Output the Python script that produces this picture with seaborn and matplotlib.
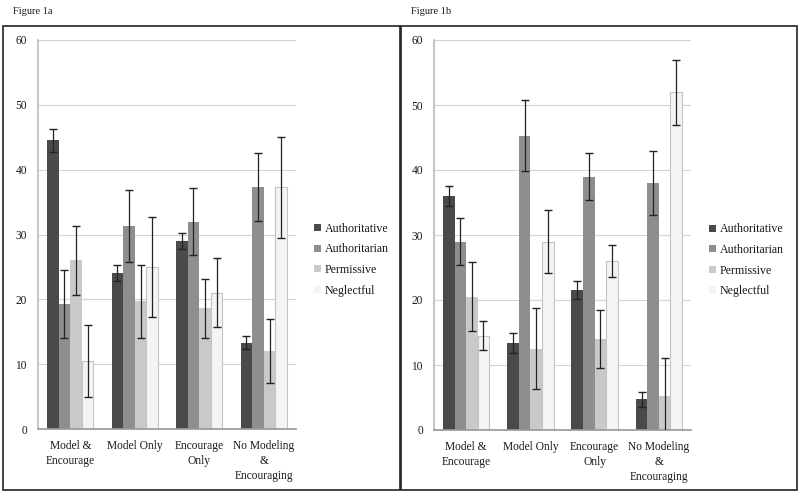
import pandas as pd
import matplotlib
matplotlib.use("Agg")
import matplotlib.pyplot as plt
import seaborn as sns
from matplotlib.patches import Rectangle

conditions = ["Model &\nEncourage", "Model Only", "Encourage\nOnly", "No Modeling\n&\nEncouraging"]
styles = ["Authoritative", "Authoritarian", "Permissive", "Neglectful"]

# Figure 1a: means per style (one list per style, over the four conditions)
fig1a_means = {
    "Authoritative": [44.5, 24.1, 29.0, 13.3],
    "Authoritarian": [19.3, 31.3, 32.0, 37.3],
    "Permissive": [26.0, 19.7, 18.6, 12.0],
    "Neglectful": [10.5, 25.0, 21.0, 37.3],
}
fig1a_err = {
    "Authoritative": [1.7, 1.2, 1.3, 1.0],
    "Authoritarian": [5.2, 5.6, 5.1, 5.2],
    "Permissive": [5.3, 5.6, 4.6, 4.9],
    "Neglectful": [5.5, 7.7, 5.3, 7.8],
}

# Figure 1b
fig1b_means = {
    "Authoritative": [36.0, 13.4, 21.6, 4.7],
    "Authoritarian": [29.0, 45.3, 39.0, 38.0],
    "Permissive": [20.5, 12.5, 14.0, 5.3],
    "Neglectful": [14.5, 29.0, 26.0, 52.0],
}
fig1b_err = {
    "Authoritative": [1.6, 1.6, 1.4, 1.2],
    "Authoritarian": [3.6, 5.4, 3.6, 4.9],
    "Permissive": [5.3, 6.2, 4.5, 5.8],
    "Neglectful": [2.2, 4.9, 2.4, 5.0],
}

colors = ["#4a4a4a", "#8e8e8e", "#c9c9c9", "#f4f4f4"]
serif = ["Liberation Serif", "DejaVu Serif"]
txt = "#1a1a1a"

sns.set_theme(style="white")
plt.rcParams["font.family"] = serif


def to_long(means):
    rows = []
    for s in styles:
        for c, v in zip(conditions, means[s]):
            rows.append({"condition": c, "style": s, "value": v})
    return pd.DataFrame(rows)


def draw_panel(fig, rect, means, errs, label, box):
    # panel frame and caption
    fig.patches.append(Rectangle((box[0], box[1]), box[2], box[3], transform=fig.transFigure,
                                 fill=False, edgecolor="#222222", linewidth=1.2))
    fig.text(box[0] + 0.012, 0.985, label, fontsize=7.5, ha="left", va="top", family=serif,
             color=txt)

    ax = fig.add_axes(rect)
    df = to_long(means)
    sns.barplot(data=df, x="condition", y="value", hue="style", hue_order=styles,
                order=conditions, palette=colors, width=0.72, ax=ax, errorbar=None,
                edgecolor="none", linewidth=0)
    for cont, s in zip(ax.containers, styles):
        xs = [p.get_x() + p.get_width() / 2 for p in cont.patches]
        ax.errorbar(xs, means[s], yerr=errs[s], fmt="none", ecolor="#222222",
                    elinewidth=0.9, capsize=3, capthick=1.0, zorder=5)
        if s == "Neglectful":
            for p in cont.patches:
                p.set_edgecolor("#c4c4c4")
                p.set_linewidth(0.8)

    ax.set_ylim(0, 60)
    ax.set_xlim(-0.5, 3.5)
    ax.set_yticks(range(0, 61, 10))
    ax.yaxis.grid(True, color="#d4d4d4", linewidth=0.8)
    ax.set_axisbelow(True)
    for side in ["top", "right"]:
        ax.spines[side].set_visible(False)
    ax.spines["left"].set_color("#bdbdbd")
    ax.spines["bottom"].set_color("#9a9a9a")
    ax.set_xlabel("")
    ax.set_ylabel("")
    ax.tick_params(axis="x", which="major", length=0, labelsize=8.3, pad=8, colors=txt)
    ax.set_xticks([-0.5, 0.5, 1.5, 2.5, 3.5], minor=True)
    ax.tick_params(axis="x", which="minor", length=5, color="#9a9a9a", direction="out")
    ax.tick_params(axis="y", length=0, labelsize=8.3, pad=8, colors=txt)
    for t in ax.get_xticklabels():
        t.set_linespacing(1.35)

    handles, labels = ax.get_legend_handles_labels()
    leg = ax.legend(handles, labels, loc="center left", bbox_to_anchor=(1.03, 0.435), frameon=False,
                    handlelength=0.55, handleheight=0.55, handletextpad=0.3,
                    labelspacing=0.72, prop={"family": serif, "size": 8.6})
    for t in leg.get_texts():
        t.set_color(txt)
    return ax


fig = plt.figure(figsize=(8, 4.96), dpi=100)
draw_panel(fig, [38 / 800, 1 - 429 / 496, 258 / 800, 389 / 496], fig1a_means, fig1a_err,
           "Figure 1a", [3 / 800, 1 - 490 / 496, 397 / 800, 464 / 496])
draw_panel(fig, [434 / 800, 1 - 430 / 496, 257 / 800, 390 / 496], fig1b_means, fig1b_err,
           "Figure 1b", [401 / 800, 1 - 490 / 496, 396 / 800, 464 / 496])

fig.savefig("out.png", dpi=100)
plt.close(fig)
